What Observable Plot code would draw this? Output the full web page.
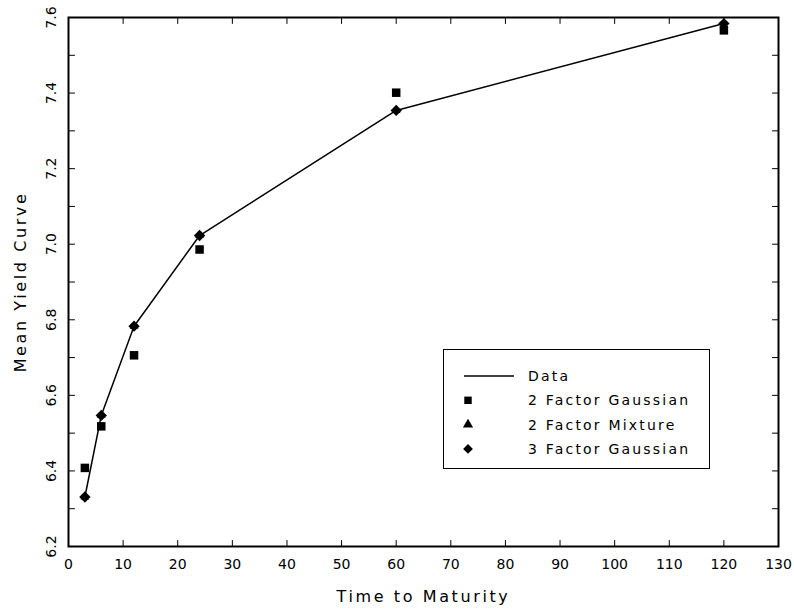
<!DOCTYPE html>
<html>
<head>
<meta charset="utf-8">
<script src="https://cdn.jsdelivr.net/npm/d3@7"></script>
<script src="https://cdn.jsdelivr.net/npm/@observablehq/plot@0.6"></script>
<style>
  body { margin: 0; background: #fff; }
  #wrap { position: relative; width: 794px; height: 611px; font-family: "DejaVu Sans", sans-serif; }
  #wrap svg { overflow: visible; }
  #legend { position: absolute; left: 443px; top: 349px; width: 265px; height: 118px; border: 1px solid #000; background: #fff; box-sizing: content-box; }
</style>
</head>
<body>
<div id="wrap"></div>
<script>
// Data
const maturities = [3, 6, 12, 24, 60, 120];
const dataYield = [6.331, 6.547, 6.783, 7.023, 7.354, 7.584];
const gauss2 = [6.408, 6.518, 6.706, 6.986, 7.401, 7.566];
const mixture2 = [6.331, 6.547, 6.783, 7.023, 7.354, 7.580];
const gauss3 = [6.331, 6.547, 6.783, 7.023, 7.354, 7.584];
const xTicks = [0, 10, 20, 30, 40, 50, 60, 70, 80, 90, 100, 110, 120, 130];
const xMinorTicks = [10, 20, 30, 40, 50, 60, 70, 80, 90, 100, 110, 120];
const yLabels = [6.2, 6.4, 6.6, 6.8, 7.0, 7.2, 7.4, 7.6];
const yMinorTicks = [6.3, 6.4, 6.5, 6.6, 6.7, 6.8, 6.9, 7.0, 7.1, 7.2, 7.3, 7.4, 7.5];
const seriesNames = ["Data", "2 Factor Gaussian", "2 Factor Mixture", "3 Factor Gaussian"];
const xTitle = "Time to Maturity";
const yTitle = "Mean Yield Curve";

const rows = (vals) => maturities.map((m, i) => ({m, v: vals[i]}));
const tickShape = { draw(context, l) { context.moveTo(0, 0); context.lineTo(0, -l); } };
const font = "DejaVu Sans, sans-serif";

const chart = Plot.plot({
  width: 794,
  height: 611,
  marginLeft: 68,
  marginRight: 16,
  marginTop: 17,
  marginBottom: 65,
  style: { fontFamily: font, background: "#fff", overflow: "visible" },
  x: { domain: [0, 130], axis: null },
  y: { domain: [6.2, 7.6], axis: null },
  marks: [
    Plot.line(rows(dataYield), { x: "m", y: "v", stroke: "#000", strokeWidth: 1.5 }),
    Plot.dot(rows(gauss2), { x: "m", y: "v", symbol: "square", r: 4.8, fill: "#000", stroke: "none" }),
    Plot.dot(rows(mixture2), { x: "m", y: "v", symbol: "triangle", r: 3.2, fill: "#000", stroke: "none" }),
    Plot.dot(rows(gauss3), { x: "m", y: "v", symbol: "diamond2", r: 5.1, fill: "#000", stroke: "none" }),
    // ticks (inward)
    Plot.vector(xMinorTicks, { x: d => d, frameAnchor: "bottom", rotate: 0, length: 6, anchor: "start", shape: tickShape, stroke: "#000", strokeWidth: 1 }),
    Plot.vector(xMinorTicks, { x: d => d, frameAnchor: "top", rotate: 180, length: 6, anchor: "start", shape: tickShape, stroke: "#000", strokeWidth: 1 }),
    Plot.vector(yMinorTicks, { y: d => d, frameAnchor: "left", rotate: 90, length: 6, anchor: "start", shape: tickShape, stroke: "#000", strokeWidth: 1 }),
    Plot.vector(yMinorTicks, { y: d => d, frameAnchor: "right", rotate: -90, length: 6, anchor: "start", shape: tickShape, stroke: "#000", strokeWidth: 1 }),
    Plot.frame({ stroke: "#000", strokeWidth: 2 }),
    // tick labels
    Plot.text(xTicks, { x: d => d, frameAnchor: "bottom", dy: 22, text: d => String(d), fontSize: 14, fill: "#000", textAnchor: "middle" }),
    Plot.text(yLabels, { y: d => d, frameAnchor: "left", dx: -17, rotate: -90, text: d => d.toFixed(1), fontSize: 14, fill: "#000", textAnchor: "middle" }),
    // titles
    Plot.text([xTitle], { frameAnchor: "bottom", dy: 55, text: d => d, fontSize: 16, fill: "#000", textAnchor: "middle" }),
    Plot.text([yTitle], { frameAnchor: "left", dx: -48, rotate: -90, text: d => d, fontSize: 16, fill: "#000", textAnchor: "middle" })
  ]
});

// widen the axis titles' letter spacing as in the reference
d3.select(chart).selectAll("text")
  .filter(function() { return this.textContent === xTitle || this.textContent === yTitle; })
  .style("letter-spacing", "2.6px");

const wrap = document.getElementById("wrap");
wrap.appendChild(chart);

// Legend
const legend = document.createElement("div");
legend.id = "legend";
wrap.appendChild(legend);
const lsvg = d3.select(legend).append("svg").attr("width", 265).attr("height", 118).style("display", "block");
const symbols = [null, d3.symbolSquare, d3.symbolTriangle, d3.symbolDiamond2];
const sizes = [0, Math.PI * 4.2 * 4.2, Math.PI * 3.8 * 3.8, Math.PI * 4.4 * 4.4];
seriesNames.forEach((name, i) => {
  const cy = 26 + i * 24.3;
  const g = lsvg.append("g");
  if (i === 0) {
    g.append("line").attr("x1", 20).attr("x2", 70).attr("y1", cy).attr("y2", cy).attr("stroke", "#000").attr("stroke-width", 1.5);
  } else {
    g.append("path").attr("d", d3.symbol(symbols[i], sizes[i])()).attr("transform", `translate(24,${cy})`).attr("fill", "#000");
  }
  g.append("text").attr("x", 84).attr("y", cy).attr("dy", "0.35em").attr("font-size", 14).attr("letter-spacing", 2.2)
    .attr("font-family", font).attr("fill", "#000").text(name);
});
</script>
</body>
</html>
